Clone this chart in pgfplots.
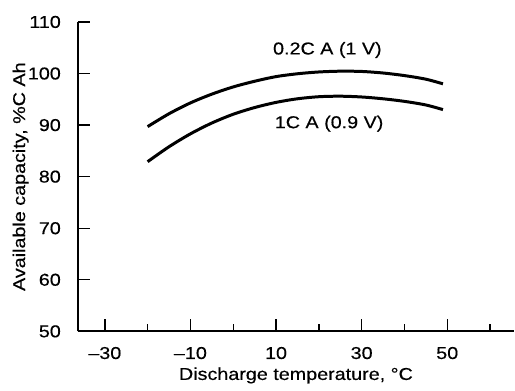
\documentclass[border=0pt]{standalone}
\usepackage{fontspec}
\setmainfont{Liberation Sans}[FakeStretch=1.15, FakeBold=0.4]
\usepackage{pgfplots}
\pgfplotsset{compat=1.18}

\begin{document}
\begin{tikzpicture}
  \begin{axis}[
      at={(0,0)}, anchor=south west,
      scale only axis,
      width=218.5pt, height=155pt,
      font=\fontsize{8.6}{10}\selectfont,
      /pgf/number format/assume math mode=true,
      axis lines=left,
      axis line style={-, line width=1pt},
      xmin=-36.3, xmax=65.6,
      ymin=50, ymax=110,
      xtick={-30,-10,10,30,50},
      xticklabels={–30,–10,10,30,50},
      minor xtick={-20,0,20,40,60},
      ytick={50,60,...,110},
      tick align=inside,
      major tick length=6.3pt,
      minor tick length=3.5pt,
      every tick/.style={black, line width=0.7pt},
      xticklabel style={yshift=-4.3pt},
      yticklabel style={xshift=-5pt},
      xlabel={Discharge temperature, °C},
      ylabel={Available capacity, \%C Ah},
      xlabel style={at={(axis description cs:0.5,-0.157)}, anchor=base},
      ylabel style={at={(axis description cs:-0.121,0.5)}, anchor=base, rotate=0},
      clip=false,
    ]
    % 0.2C A (1 V)
    \addplot[black, line width=1.5pt, smooth] coordinates {
      (-20,89.7) (-15,92.2) (-10,94.3) (-5,96.0) (0,97.4) (5,98.5) (10,99.4)
      (15,99.95) (20,100.3) (25,100.45) (30,100.4) (35,100.1) (40,99.6)
      (45,98.9) (49,98.0)
    };
    % 1C A (0.9 V)
    \addplot[black, line width=1.5pt, smooth] coordinates {
      (-20,82.9) (-15,85.8) (-10,88.3) (-5,90.4) (0,92.1) (5,93.4) (10,94.4)
      (15,95.1) (20,95.5) (25,95.6) (30,95.45) (35,95.1) (40,94.6)
      (45,93.9) (49,93.0)
    };
    \node[anchor=base] at (axis cs:22,103.7) {0.2C A (1 V)};
    \node[anchor=base] at (axis cs:22.4,89.4) {1C A (0.9 V)};
  \end{axis}
  \path (-39pt,-25.5pt) rectangle (218.5pt,166pt);
\end{tikzpicture}
\end{document}
